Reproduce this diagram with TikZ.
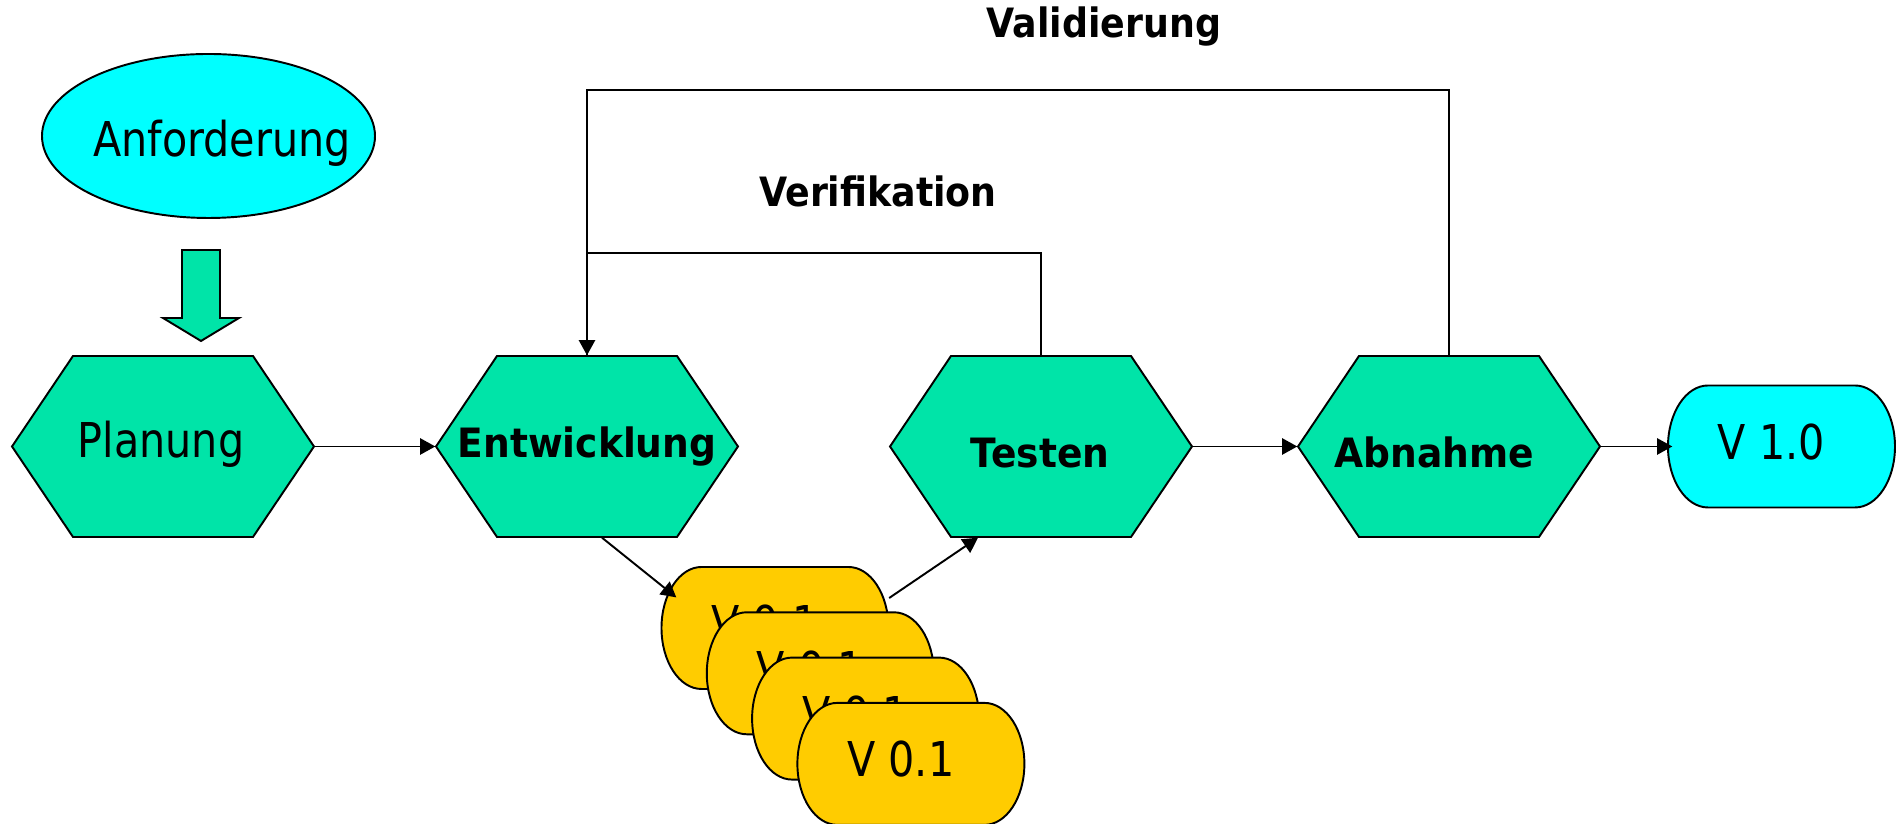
\documentclass[tikz,border=0pt]{standalone}
\usepackage{fontspec}
\usepackage{tikz}
\usepackage{xcolor}
\usetikzlibrary{arrows.meta,shapes.geometric}
\newfontfamily\plainfont{DejaVu Sans}[FakeStretch=0.86]
\newfontfamily\narrowfont{DejaVu Sans}[FakeStretch=0.93]
\newfontfamily\headfont{DejaVu Sans}[FakeStretch=0.9]
\definecolor{processgreen}{RGB}{0,228,168}
\definecolor{reqcyan}{RGB}{0,255,255}
\definecolor{versionyellow}{RGB}{255,204,0}
\newcommand{\processcolor}{processgreen}
\tikzset{
  outline/.style={draw=black,line width=0.55pt},
  flow/.style={-{Triangle[length=4.3pt,width=4.6pt]},line width=0.55pt},
  plaintext/.style={anchor=base,inner sep=0pt,
      font=\plainfont\fontsize{13.66}{16}\selectfont},
  boldtext/.style={anchor=base,inner sep=0pt,
      font=\narrowfont\bfseries\fontsize{11.5}{14}\selectfont},
  headtext/.style={anchor=base,inner sep=0pt,
      font=\headfont\bfseries\fontsize{11.5}{14}\selectfont}
}
\newcommand{\processhex}[5]{
    % Process Step as Hexagon
    % \processhex{name}{position}{text style}{text offset}{text}
    % node endings: Text: label inside
    % example:
    %   \processhex{p}{(0,0)}{boldtext}{(0,-0.1)}{Step}
    %   \draw (p.east) -- ++(1,0);
    \draw[outline,fill=\processcolor] #2 ++(-1.51,0) -- ++(0.61,0.905)
        -- ++(1.80,0) -- ++(0.61,-0.905) -- ++(-0.61,-0.905)
        -- ++(-1.80,0) -- cycle;
    \path #2 node (#1) [minimum width=3.02cm,minimum height=1.81cm,
        inner sep=0pt] {};
    \path #2 ++#4 node (#1Text) [#3] {#5};
}
\newcommand{\versionbox}[4]{
    % Version as Box with Rounded Ends
    % \versionbox{name}{position}{fill color}{text}
    % node endings: Text: label inside
    % example:
    %   \versionbox{v}{(0,0)}{versionyellow}{V 0.1}
    \draw[outline,fill=#3] #2 ++(-0.735,0.61) -- ++(1.47,0)
        arc[start angle=90,end angle=-90,x radius=0.4,y radius=0.61]
        -- ++(-1.47,0)
        arc[start angle=270,end angle=90,x radius=0.4,y radius=0.61]
        -- cycle;
    \path #2 node (#1) [minimum width=2.27cm,minimum height=1.22cm,
        inner sep=0pt] {};
    \path #2 ++(-0.1,-0.13) node (#1Text) [plaintext] {#4};
}

\begin{document}
\begin{tikzpicture}
  \useasboundingbox (0,0) rectangle (18.98,-8.24);
  % requirement
  \node (anf) [ellipse,outline,fill=reqcyan,minimum width=3.33cm,
      minimum height=1.64cm,inner sep=0pt] at (2.085,-1.36) {};
  \node (anfText) [plaintext] at (2.22,-1.57) {Anforderung};
  \draw[outline,fill=\processcolor] (1.82,-2.50) -- (2.20,-2.50)
      -- (2.20,-3.18) -- (2.39,-3.18) -- (2.01,-3.41) -- (1.63,-3.18)
      -- (1.82,-3.18) -- cycle;
  % process steps
  \processhex{plan}{(1.63,-4.465)}{plaintext}{(-0.02,-0.115)}{Planung}
  \processhex{entw}{(5.87,-4.465)}{boldtext}{(0,-0.115)}{Entwicklung}
  \processhex{test}{(10.41,-4.465)}{boldtext}{(-0.01,-0.215)}{Testen}
  \processhex{abn}{(14.49,-4.465)}{boldtext}{(-0.15,-0.215)}{Abnahme}
  \versionbox{rel}{(17.815,-4.465)}{reqcyan}{V 1.0}
  % intermediate versions
  \foreach \i in {0,...,3}
      \versionbox{v\i}{({7.75+0.453*\i},{-6.28-0.453*\i})}{versionyellow}{V 0.1};
  % flow
  \draw[flow] (plan.east) -- (entw.west);
  \draw[flow] (test.east) -- (abn.west);
  \draw[flow] (abn.east) -- ([xshift=0.05cm]rel.west);
  \draw[flow] ([xshift=0.15cm]entw.south) -- ([xshift=0.155cm]v0.165);
  \draw[flow] ([yshift=0.3cm]v0.east) -- ([xshift=-0.63cm]test.south);
  % feedback loops
  \draw[line width=0.55pt] (test.north) -- ++(0,1.02) -| (entw.north);
  \draw[flow] (abn.north) -- ++(0,2.65) -| (entw.north);
  \node (verLabel) [headtext] at (8.78,-2.07) {Verifikation};
  \node (valLabel) [headtext] at (11.04,-0.38) {Validierung};
\end{tikzpicture}
\end{document}
